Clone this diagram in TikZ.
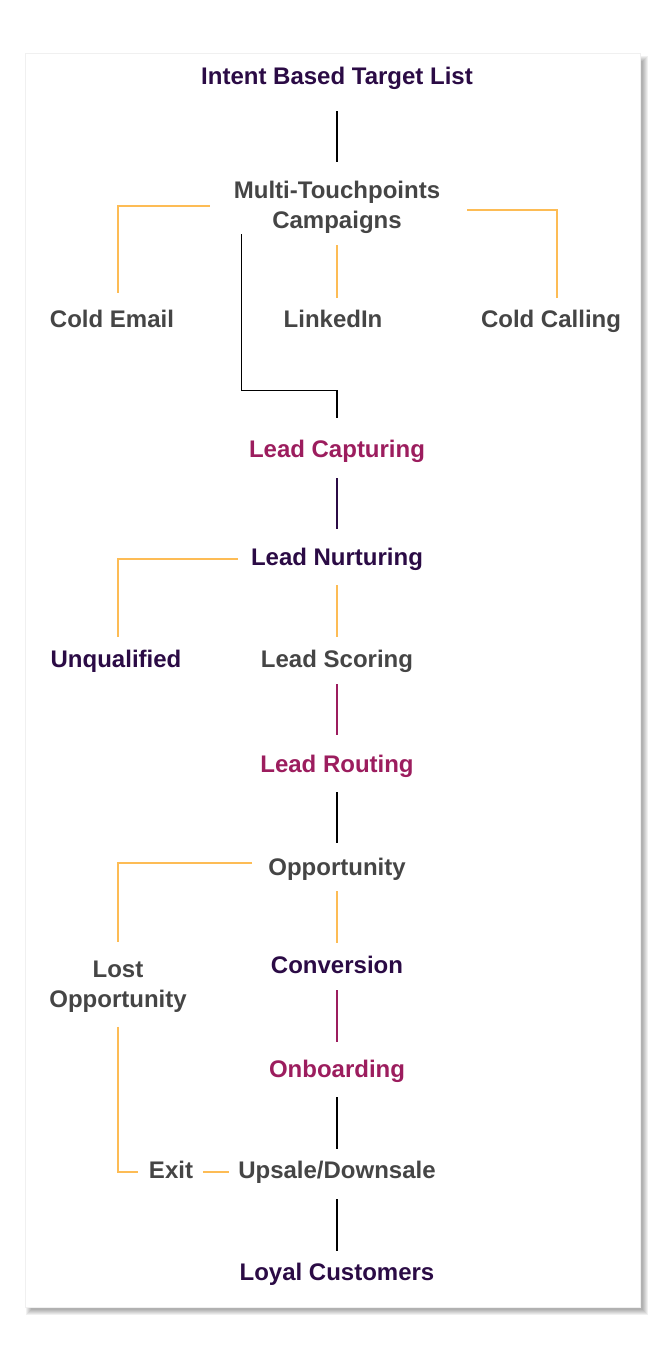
\documentclass[tikz,border=0pt]{standalone}
\usepackage{fontspec}
\setmainfont{Liberation Sans}
\usetikzlibrary{calc}
\definecolor{ink}{RGB}{43,11,69}
\definecolor{slate}{RGB}{69,69,69}
\definecolor{berry}{RGB}{156,29,94}
\definecolor{amber}{RGB}{253,188,85}

\begin{document}
\begin{tikzpicture}[x=1pt, y=-1pt,
    lbl/.style={font=\bfseries\fontsize{24}{30}\selectfont, inner sep=0pt, align=center},
    one/.style={lbl, text height=17pt, text depth=5pt, anchor=base},
    blk/.style={draw=black, line width=1.3pt},
    org/.style={draw=amber, line width=1.6pt},
    gap/.style 2 args={shorten <=#1pt, shorten >=#2pt}]
  \useasboundingbox (0,0) rectangle (666,1359);
  % --- Kart ve golgesi ---
  \foreach \s in {0,...,5} {
    \fill[black, opacity=0.06] (26+\s,56+\s) rectangle (648-\s,1315-\s);
  }
  \fill[white, draw=black!6] (25,53) rectangle (640,1307);

  % --- Ust blok ---
  \node[one, ink] (intent) at (337,85) {Intent Based Target List};
  \node[lbl, slate] (multi) at (337,207) {Multi-Touchpoints\\Campaigns};
  \node[one, slate] (cold) at (112,327) {Cold Email};
  \node[one, slate] (linked) at (333,327) {LinkedIn};
  \node[one, slate] (call) at (551,327) {Cold Calling};

  % --- Lead asamalari ---
  \node[one, berry] (capture) at (337,457) {Lead Capturing};
  \node[one, ink] (nurture) at (337,565) {Lead Nurturing};
  \node[one, ink] (unq) at (116,667) {Unqualified};
  \node[one, slate] (scoring) at (337,667) {Lead Scoring};
  \node[one, berry] (routing) at (337,772) {Lead Routing};

  % --- Satis ve musteri ---
  \node[one, slate] (opp) at (337,875) {Opportunity};
  \node[lbl, slate] (lost) at (118,987) {Lost\\Opportunity};
  \node[one, ink] (conv) at (337,973) {Conversion};
  \node[one, berry] (onb) at (337,1077) {Onboarding};
  \node[one, slate] (exit) at (171,1178) {Exit};
  \node[one, slate] (upsale) at (337,1178) {Upsale/Downsale};
  \node[one, ink] (loyal) at (337,1280) {Loyal Customers};

  % --- Ana akis ---
  \draw[blk, gap={21}{19}] (intent) -- (multi);
  \draw[blk] ([xshift=8pt,yshift=-1pt]multi.south west)
    |- ([yshift=49pt]capture.north) -- ([yshift=22pt]capture.north);
  \draw[draw=ink, line width=1.3pt, gap={16}{19}] (capture) -- (nurture);
  \draw[org, gap={15}{13}] (nurture) -- (scoring);
  \draw[draw=berry, line width=1.3pt, gap={12}{20}] (scoring) -- (routing);
  \draw[blk, gap={15}{15}] (routing) -- (opp);
  \draw[org, gap={11}{13}] (opp) -- (conv);
  \draw[draw=berry, line width=1.3pt, gap={12}{18}] (conv) -- (onb);
  \draw[blk, gap={15}{12}] (onb) -- (upsale);
  \draw[blk, gap={16}{12}] (upsale) -- (loyal);

  % --- Yan dallar ---
  \draw[org] ([xshift=-24pt,yshift=1pt]multi.west) -| ([xshift=6pt,yshift=17pt]cold.north);
  \draw[org] ([yshift=-12pt]multi.south) -- ([yshift=12pt]multi.south |- linked.north);
  \draw[org] ([xshift=27pt,yshift=-3pt]multi.east) -| ([xshift=6pt,yshift=12pt]call.north);
  \draw[org] ([xshift=-13pt]nurture.west) -| ([xshift=2pt,yshift=13pt]unq.north);
  \draw[org] ([xshift=-16pt,yshift=6pt]opp.west) -| ([yshift=19pt]lost.north);
  \draw[org] ([yshift=-14pt]lost.south) |- ([xshift=-11pt]exit.west);
  \draw[org] ([xshift=10pt]exit.east) -- ([xshift=-9pt]upsale.west);
\end{tikzpicture}
\end{document}
